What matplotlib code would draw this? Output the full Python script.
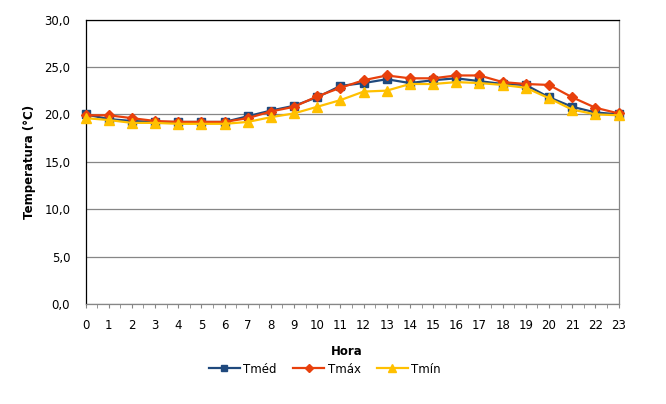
import matplotlib
matplotlib.use("Agg")
import matplotlib.pyplot as plt
from matplotlib.ticker import FuncFormatter, MultipleLocator

hours = list(range(24))
t_med = [20.0, 19.5, 19.3, 19.2, 19.2, 19.2, 19.2, 19.8, 20.4, 20.9, 21.8, 23.0,
         23.3, 23.7, 23.3, 23.6, 23.8, 23.5, 23.2, 23.1, 21.8, 20.8, 20.2, 20.0]
t_max = [19.9, 19.9, 19.6, 19.3, 19.2, 19.2, 19.2, 19.6, 20.3, 20.8, 21.9, 22.8,
         23.6, 24.1, 23.8, 23.8, 24.1, 24.1, 23.4, 23.2, 23.1, 21.8, 20.7, 20.1]
t_min = [19.6, 19.4, 19.1, 19.1, 19.0, 19.0, 19.0, 19.2, 19.7, 20.1, 20.8, 21.5,
         22.4, 22.5, 23.2, 23.2, 23.4, 23.3, 23.1, 22.8, 21.7, 20.5, 20.0, 19.9]

grey = "#868686"

fig = plt.figure(figsize=(6.66, 4.04), dpi=100)
ax = fig.add_axes([0.1284, 0.2475, 0.8003, 0.7042])

ax.plot(hours, t_med, color="#1F497D", lw=1.6, marker="s", ms=5.8, label="Tméd",
        clip_on=False, zorder=3)
ax.plot(hours, t_max, color="#E8400C", lw=1.6, marker="D", ms=5.5, label="Tmáx",
        clip_on=False, zorder=4)
ax.plot(hours, t_min, color="#FFC000", lw=1.6, marker="^", ms=6.8, label="Tmín",
        clip_on=False, zorder=5)

ax.set_xlim(0, 23)
ax.set_ylim(0, 30)
ax.xaxis.set_major_locator(MultipleLocator(1))
ax.xaxis.set_minor_locator(MultipleLocator(0.5))
ax.yaxis.set_major_locator(MultipleLocator(5))
ax.yaxis.set_major_formatter(FuncFormatter(lambda v, p: f"{v:.1f}".replace(".", ",")))

ax.grid(axis="y", color=grey, lw=0.9)
ax.set_axisbelow(True)

ax.spines["left"].set_color("black")
ax.spines["top"].set_color("black")
ax.spines["right"].set_color(grey)
ax.spines["bottom"].set_color(grey)
for s in ax.spines.values():
    s.set_linewidth(0.9)

ax.tick_params(axis="x", which="both", direction="out", length=3, color=grey,
               labelsize=8.5, pad=8)
ax.tick_params(axis="y", length=0, labelsize=8.5, pad=11)

ax.set_ylabel("Temperatura (°C)", fontsize=8.5, fontweight="bold", labelpad=6)
fig.text(0.521, 0.131, "Hora", ha="center", va="center", fontsize=8.5, fontweight="bold")

fig.legend(loc="center", bbox_to_anchor=(0.488, 0.0866), ncol=3, frameon=False,
           fontsize=8.5, handlelength=2.6, columnspacing=1.4, handletextpad=0.3,
           markerscale=0.8)

fig.savefig("out.png", dpi=100)
